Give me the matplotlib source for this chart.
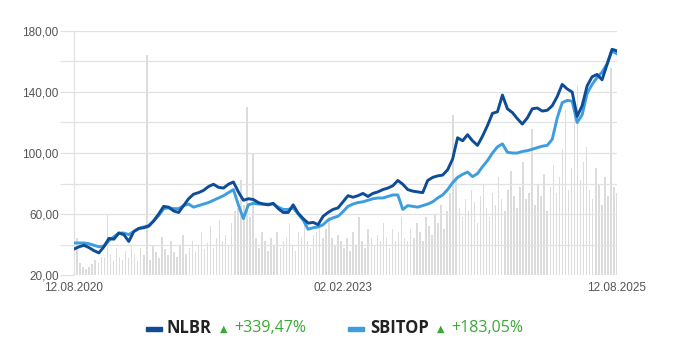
import matplotlib.pyplot as plt
import matplotlib.dates as mdates
import numpy as np
import pandas as pd

start_date = "2020-08-12"
end_date = "2025-08-12"
mid_date = "2023-02-02"

nlbr = [
    37, 38.5, 39.5, 38, 36, 34.5, 38.5, 44, 43.5, 47.5,
    46.5, 42, 48.5, 50.5, 51, 52, 55.5, 60, 65, 64.5,
    62, 61, 65.5, 70, 73, 74, 75.5, 78, 79.5, 77.5,
    77, 79.5, 81, 74.5, 69, 70, 69.5, 67.5, 66.5, 66,
    67, 63.5, 61, 61, 66, 60.5, 57, 54, 54.5, 53,
    58.5, 61, 63, 64, 68, 72, 71, 72, 73.5, 71.5,
    73.5, 74.5, 76, 77, 78.5, 82, 79.5, 76, 75, 74.5,
    74, 82, 84, 85, 85.5, 89, 96, 110, 108, 112,
    108, 105, 111, 118, 126, 127, 138, 129, 126.5, 122.5,
    119, 123, 129, 129.5, 127.5, 128, 131, 137, 145, 142,
    140, 124, 131, 144, 150, 151.5, 148, 158, 168, 167,
]

sbitop = [
    41, 41, 41, 40.5, 39.5, 38.5, 39, 42.5, 45, 47.5,
    47.5, 46.5, 48.5, 50.5, 51.5, 52.5, 55.5, 59, 63.5, 64,
    63.5, 63.5, 65.5, 66.5, 64.5, 65.5, 66.5, 67.5, 69, 70.5,
    72, 74, 76, 66, 57, 66, 67, 66.5, 66.5, 66.5,
    66.5, 64.5, 63, 63, 64, 60, 56, 50, 51, 51.5,
    53, 56, 57.5, 58.5, 61.5, 65, 66.5, 67.5, 68, 69,
    70, 70.5, 70.5, 71.5, 72.5, 72.5, 63, 65.5, 65, 64.5,
    65.5, 66.5, 68, 70.5, 72.5, 76, 80.5, 84, 86, 87.5,
    84.5, 86.5, 91, 95, 100, 104, 106, 100.5, 100, 100,
    101, 101.5, 102.5, 103.5, 104.5, 105, 109, 123, 133, 134.5,
    134, 120, 125, 139, 145, 149.5, 153, 158.5, 167, 165,
]

# turnover, in the same units as the price axis (drawn from the 20 line up)
volume = [
    28, 24, 8, 5, 4, 5, 7, 10, 8, 12,
    11, 40, 14, 9, 18, 12, 10, 16, 11, 20,
    14, 9, 18, 13, 144, 10, 20, 15, 11, 25,
    17, 13, 22, 15, 12, 19, 26, 14, 18, 22,
    15, 20, 28, 17, 21, 32, 18, 24, 36, 22,
    26, 20, 34, 42, 44, 62, 46, 110, 38, 80,
    24, 18, 28, 22, 16, 24, 20, 28, 18, 22,
    24, 34, 20, 16, 28, 24, 36, 22, 18, 26,
    28, 34, 24, 30, 38, 24, 20, 26, 22, 18,
    24, 16, 28, 20, 38, 22, 18, 30, 24, 20,
    26, 22, 34, 24, 18, 30, 22, 28, 38, 24,
    22, 30, 24, 34, 28, 22, 38, 32, 26, 40,
    34, 46, 30, 42, 54, 105, 64, 44, 38, 50,
    42, 56, 48, 34, 52, 60, 44, 38, 54, 46,
    64, 50, 42, 56, 68, 52, 44, 58, 74, 50,
    54, 96, 46, 60, 52, 66, 42, 58, 72, 54,
    64, 82, 108, 56, 70, 110, 124, 62, 74, 84,
    56, 50, 70, 60, 46, 64, 52, 136, 58, 54,
]

y_ticks = [20, 40, 60, 80, 100, 120, 140, 160, 180]
y_labels = ["20,00", "", "60,00", "", "100,00", "", "140,00", "", "180,00"]

legend_names = ["NLBR", "SBITOP"]
legend_changes = ["+339,47%", "+183,05%"]

DARK = "#0f4c96"
LIGHT = "#3d9ddd"
GREEN = "#3aa935"
GRID = "#e2e2e2"


def px(x, y):
    return x / 674, 1 - y / 353


def main():
    fig = plt.figure(figsize=(6.74, 3.53), dpi=100)
    ax = fig.add_axes([74 / 674, 1 - 275 / 353, 543 / 674, 244 / 353])

    line_dates = pd.date_range(start_date, end_date, periods=len(nlbr))
    vol_dates = pd.date_range(start_date, end_date, periods=len(volume))
    bar_w = (pd.Timestamp(end_date) - pd.Timestamp(start_date)).days / len(volume) * 0.5

    ax.bar(vol_dates, volume, bottom=20, width=bar_w, color="#d6d6d6",
           alpha=0.85, linewidth=0, zorder=1)

    ax.plot(line_dates, sbitop, color=LIGHT, lw=2.1, zorder=3)
    ax.plot(line_dates, nlbr, color=DARK, lw=2.1, zorder=4)

    ax.set_xlim(pd.Timestamp(start_date), pd.Timestamp(end_date))
    ax.set_ylim(20, 180)

    ax.set_yticks(y_ticks)
    ax.set_yticklabels(y_labels)
    ax.grid(axis="y", color=GRID, lw=0.9, zorder=2)
    ax.tick_params(axis="y", length=10, width=0.9, color=GRID, pad=1,
                   labelsize=8.5, labelcolor="#555555")

    ax.set_xticks([pd.Timestamp(d) for d in [start_date, mid_date, end_date]])
    ax.xaxis.set_major_formatter(mdates.DateFormatter("%d.%m.%Y"))
    ax.tick_params(axis="x", length=0, pad=5, labelsize=8.5, labelcolor="#555555")

    for side in ["top", "right", "bottom"]:
        ax.spines[side].set_visible(False)
    ax.spines["left"].set_color(GRID)
    ax.spines["left"].set_linewidth(0.9)
    for lbl in ax.get_xticklabels() + ax.get_yticklabels():
        lbl.set_family("Liberation Sans")

    # legend drawn by hand under the chart
    items = [
        (DARK, 146, 167, 220, 234),
        (LIGHT, 348, 370, 437, 451),
    ]
    for (color, bx, tx, trx, cx), name, change in zip(items, legend_names, legend_changes):
        fig.add_artist(plt.Rectangle(px(bx, 331), 16 / 674, 4 / 353,
                                     color=color, transform=fig.transFigure))
        x, y = px(tx, 328)
        fig.text(x, y, name, fontsize=12, fontweight="bold", color="#222222",
                 family="Open Sans", va="center", ha="left")
        x, y = px(trx, 329)
        fig.text(x, y, "▲", fontsize=7, color=GREEN, family="DejaVu Sans",
                 va="center", ha="left")
        x, y = px(cx, 328)
        fig.text(x, y, change, fontsize=11.5, color=GREEN,
                 family="Open Sans", va="center", ha="left")

    fig.savefig("out.png", dpi=100)
    plt.close(fig)


if __name__ == "__main__":
    main()
